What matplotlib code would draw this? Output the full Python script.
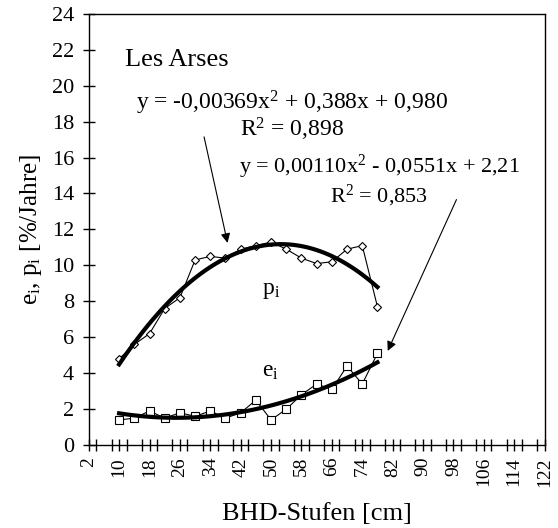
import numpy as np
import matplotlib
matplotlib.use("Agg")
import matplotlib.pyplot as plt
from matplotlib.ticker import MultipleLocator

plt.rcParams["font.family"] = ["Liberation Serif", "DejaVu Serif"]
plt.rcParams["mathtext.fontset"] = "custom"
plt.rcParams["mathtext.rm"] = "Liberation Serif"
plt.rcParams["mathtext.it"] = "Liberation Serif"

# BHD-Stufen (cm)
bhd = [10, 14, 18, 22, 26, 30, 34, 38, 42, 46, 50, 54, 58, 62, 66, 70, 74, 78]
p_i = [4.8, 5.6, 6.2, 7.6, 8.2, 10.3, 10.5, 10.4, 10.9, 11.1, 11.3, 10.9, 10.4,
       10.1, 10.2, 10.9, 11.1, 7.7]
e_i = [1.4, 1.5, 1.9, 1.5, 1.8, 1.6, 1.9, 1.5, 1.8, 2.5, 1.4, 2.0, 2.8,
       3.4, 3.1, 4.4, 3.4, 5.1]

# Polynomial trend coefficients (a, b, c) for a*x^2 + b*x + c
p_coef = [-0.00369, 0.388, 0.980]
e_coef = [0.00110, -0.0551, 2.21]

fig = plt.figure(figsize=(5.58, 5.28), dpi=100)
ax = fig.add_axes([0.159, 0.157, 0.817, 0.817])

ax.plot(bhd, p_i, "-", color="black", linewidth=0.8, marker="D", markersize=4,
        markerfacecolor="white", markeredgecolor="black", markeredgewidth=0.8)
ax.plot(bhd, e_i, "-", color="black", linewidth=0.8, marker="s", markersize=6,
        markerfacecolor="white", markeredgecolor="black", markeredgewidth=0.8)

xs = np.linspace(bhd[0], bhd[-1], 100)
ax.plot(xs, np.polyval(p_coef, xs), color="black", linewidth=3)
ax.plot(xs, np.polyval(e_coef, xs), color="black", linewidth=3)

ax.set_xlim(2, 122)
ax.set_ylim(0, 24)
ax.xaxis.set_minor_locator(MultipleLocator(4))
ax.set_xticks(range(2, 123, 8))
ax.yaxis.set_major_locator(MultipleLocator(2))
ax.tick_params(axis="both", which="both", direction="inout", length=9, width=1,
               color="black")
ax.tick_params(axis="y", labelsize=16, pad=6)
ax.tick_params(axis="x", which="major", labelsize=14, labelrotation=90, pad=4)
for s in ax.spines.values():
    s.set_linewidth(1)

ax.set_xlabel("BHD-Stufen [cm]", fontsize=19, labelpad=12)
ax.set_ylabel("e$_\\mathrm{i}$, p$_\\mathrm{i}$ [%/Jahre]", fontsize=18, labelpad=6)

ax.text(11.5, 21.4, "Les Arses", fontsize=19, va="center")
ax.text(55.5, 18.3, "y = -0,00369x$^2$ + 0,388x + 0,980\nR$^2$ = 0,898",
        fontsize=17, ha="center", va="center", multialignment="center",
        linespacing=0.95)
ax.text(78.5, 14.7, "y = 0,00110x$^2$ - 0,0551x + 2,21\nR$^2$ = 0,853",
        fontsize=16, ha="center", va="center", multialignment="center",
        linespacing=1.1)
ax.text(47.5, 8.6, "p$_\\mathrm{i}$", fontsize=17, va="center")
ax.text(47.5, 4.1, "e$_\\mathrm{i}$", fontsize=17, va="center")

arrow = dict(arrowstyle="-|>", color="black", linewidth=0.8, mutation_scale=14)
ax.annotate("", xy=(38.7, 11.1), xytext=(32.2, 17.3), arrowprops=arrow)
ax.annotate("", xy=(80.4, 5.1), xytext=(99.1, 13.8), arrowprops=arrow)

fig.savefig("out.png", dpi=100)
